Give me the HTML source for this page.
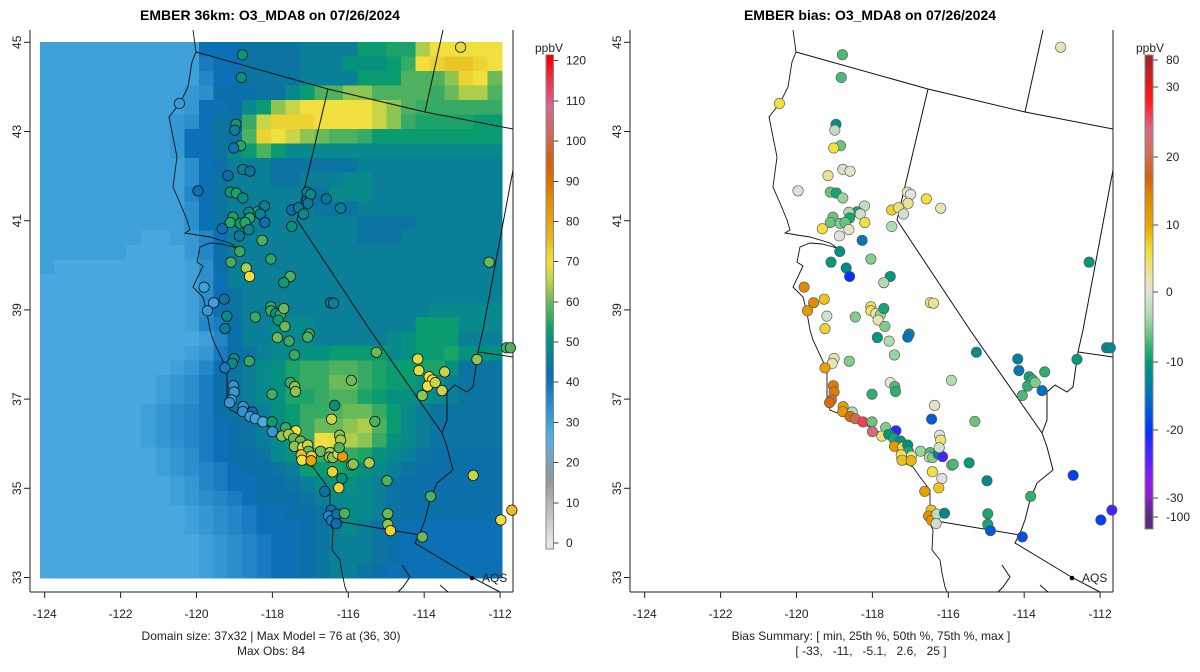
<!DOCTYPE html>
<html><head><meta charset="utf-8"><style>
html,body{margin:0;padding:0;background:#fff;}
svg{display:block;font-family:"Liberation Sans",Arial,sans-serif;}
</style></head><body>
<svg id="svg" width="1200" height="672" viewBox="0 0 1200 672" xmlns="http://www.w3.org/2000/svg">
<g id="left"></g>
<g id="right"></g>
</svg>
<script>
// ---------- DATA ----------
const gridRows = [
"55555555555AAACCCCDDDDGGHHMPPPPP","555555555559AACCCCDDDFFFGIPQRRQP","555555555558AACCCCDDDDGGGJJJLQPK",
"555555555567BBBCCEGJJLLJJJJIKMMJ","55555555556AABEGLNPPPPPNLJIIIIII","55555555567ACCINQQQPPPPNLIHHHHGG",
"5555555556AACCJQPNLKJJIGGGGGGGGG","5555555556AACEGJGEEEEEEEEEEEEEEE","55555555557ABDDDCCCCCCDDDDDDDDDD",
"55555555557ACDDDCCDDDEEDDDDDDDDD","55555555558ACDDDDDCCEEEDDDDDDDDD","55555555557ACDDDDDDCCCDDDDDDDDDD",
"55555555557ACDDDDDDDDDCCCCDDDDDD","555555544568ADDDDDDDDDCCCDDDDDDD","555555444468BDDDDDDDDDDDDDDDDDDD",
"544444444457BDDDDDDDDDDDDDDDDDDD","444444444457ADDDDDDDDDDDDDDDDDDD","444444444457ACDDDDDDDDDDDDDDDDDD",
"444444444457ACDDDDDDDDDDDDDEEEEE","4444444444589BDDEEEDDDDDDDGGGEEE","4444444444458BDDEEEDDDDDEFGGGDDD",
"4444444444569BCDEEFFGGGGEFGGHFFF","444444444568ACDEFHIIJJIHGGHHFCCC","444444445679BCDEFHIIKKIHGGFEDCCC",
"444444445679BCDEFHHIJJHGFFEEDCCC","444444456789BCDDFGIIJKKIGEDCCCCC","444444456789ABCDEGIKKLMJGEDCCCCC",
"444444456789ABCDEGIPOMLIFEDCCCCC","444444445679ABBCEFHIJIHFEDCBBBBB","4444444456789ABBCDGGHGFEDCBBBBBB",
"4444444445689AABBCDEFFEDCBBBBBBB","44444444456789ABBBCDEEEDCBBBBBBB","444444444456789AABBCDEEDCBBBBBBB",
"444444444456789AAABCDEDCBAAAAAAA","4444444444456789AABCDDDCBAAAAAAA","4444444444456789AABCDDDCBAAAAAAA",
"4444444444456789AABCDDCBAAAAAAAA"];
const lons = [-118.79,-118.82,-120.45,-118.96,-118.99,-118.84,-119.02,-118.78,-118.59,-119.17,-119.96,-119.11,-118.95,-118.78,-118.21,-118.40,-118.62,-118.32,-118.60,-119.04,-119.11,-118.85,-118.72,-118.20,-119.32,-118.62,-118.87,-118.27,-118.86,-119.09,-118.69,-118.60,-118.04,-117.53,-117.70,-119.80,-119.55,-119.71,-119.27,-119.20,-119.25,-118.45,-118.04,-118.04,-117.91,-117.79,-117.70,-117.85,-117.67,-117.87,-117.56,-117.03,-117.07,-117.49,-117.31,-117.08,-116.99,-117.06,-117.18,-116.58,-116.20,-117.49,-116.47,-116.39,-113.04,-112.29,-111.83,-111.73,
-117.42,-118.61,-119.01,-119.06,-119.25,-115.26,-114.17,-114.14,-113.46,-113.87,-113.78,-113.91,-113.71,-113.53,-114.05,-112.61,
-115.92,-117.53,-117.41,-117.39,-118.01,-119.03,-119.01,-119.08,-119.13,-116.36,-116.44,-115.30,-118.77,-118.78,-118.53,-118.59,-118.45,-118.25,-118.01,-118.00,-117.65,-117.38,-117.75,-117.57,-117.44,-117.26,-117.42,-117.20,-117.07,-117.05,-117.24,-117.22,-116.97,-116.98,-116.73,-116.48,-116.50,-116.41,-116.27,-116.15,-116.23,-116.20,-116.24,-115.91,-115.87,-115.45,-116.42,-116.17,-116.25,-116.62,-114.98,-113.83,-112.71,-116.45,-116.52,-116.44,-116.30,-116.32,-116.10,-114.96,-114.96,-114.89,-114.05,-111.98,-111.69];
const lats = [44.72,44.21,43.63,43.16,43.03,42.68,42.63,42.15,42.11,42.01,41.67,41.64,41.62,41.51,41.33,41.20,41.19,41.15,41.06,41.08,40.96,40.94,40.96,40.96,40.82,40.80,40.66,40.56,40.31,40.07,39.94,39.75,40.14,39.75,39.61,39.51,39.16,38.98,39.24,38.86,38.58,38.84,39.07,38.98,38.92,38.89,39.03,38.77,38.63,38.38,38.30,38.46,38.39,41.24,41.29,41.64,41.59,41.39,41.15,41.49,41.28,40.87,39.16,39.15,44.89,40.07,38.15,38.15,
37.99,37.85,37.91,37.80,37.70,38.05,37.90,37.64,37.61,37.50,37.43,37.29,37.37,37.19,37.08,37.89,
37.42,37.37,37.28,37.17,37.11,37.30,37.16,36.98,36.92,36.86,36.55,36.50,36.83,36.72,36.71,36.61,36.56,36.49,36.49,36.27,36.36,36.29,36.17,36.21,36.12,36.06,35.94,35.92,35.97,35.83,35.75,35.63,35.72,35.62,35.83,35.80,35.70,35.69,35.77,35.71,36.19,36.08,35.91,35.52,35.54,35.57,35.37,35.22,35.01,34.93,35.17,34.82,35.29,34.51,34.38,34.28,34.42,34.21,34.44,34.43,34.19,34.05,33.91,34.29,34.51];
const obsValues = [51,50,31,52,46,55,40,46,44,43,40,52,54,50,46,54,48,46,55,54,55,52,55,42,40,47,45,58,56,57,64,70,55,58,52,30,30,32,44,48,45,56,56,56,50,56,60,52,60,60,56,57,58,42,45,46,48,45,48,44,46,50,45,46,68,60,58,58,
56,56,48,48,38,60,68,68,66,70,70,70,66,66,62,62,
60,56,62,62,57,33,32,30,32,50,66,58,33,33,42,31,30,27,52,32,56,70,62,64,60,60,62,68,66,60,74,70,72,80,60,64,62,62,68,82,62,64,58,62,62,64,72,50,72,44,58,58,66,40,36,38,44,42,58,60,62,72,60,70,75];
const biasValues = [-7,-7,6,-11,-2,-6,6,-1,1,3,0,-6,-9,-4,-2,-9,-3,-1,-9,-6,-6,-5,-6,6,6,1,0,-14,-11,-10,-12,-20,-5,-10,-3,14,14,12,8,-1,7,-5,5,5,2,-4,-9,2,-5,-10,-3,-12,-15,7,4,2,0,3,-1,6,2,-3,4,3,2,-10,-12,-12,
-4,-5,2,2,11,-11,-13,-14,-8,-9,-8,-8,-5,-15,-7,-10,
-3,1,-7,-8,-8,15,15,20,16,1,-17,-6,11,12,-3,16,20,26,-6,23,-5,-22,4,-10,-9,-11,12,6,-11,-9,5,8,3,9,-4,-7,-3,-5,-12,-23,0,4,-1,-6,-7,-10,6,0,8,11,-12,-8,-19,8,13,12,-2,-1,-12,-9,-9,-17,-18,-19,-23];
const lonTicks = [-124,-122,-120,-118,-116,-114,-112];
const latTicks = [45,43,41,39,37,35,33];
const obsTicks = [0,10,20,30,40,50,60,70,80,90,100,110,120];
const biasTicks = [-100,-30,-20,-10,0,10,20,30,80];

// ---------- scales / colors ----------
const X = lon => 44.7 + (lon + 124) * 37.95;
const Y = lat => 42.3 + (45 - lat) * 44.6;
const obsStops = [[0,"#e6e6e6"],[10,"#b4b4b4"],[15,"#979797"],[20,"#7f9fb5"],[25,"#5aaee0"],[28,"#4aa8de"],[30,"#3e9fd9"],[34,"#2b8fcd"],[38,"#1a7cc0"],[40,"#0c70b4"],[43,"#0b6fa5"],[46,"#0a7f97"],[48,"#088a8c"],[50,"#06907f"],[53,"#0ea06a"],[56,"#37aa66"],[59,"#5ab45b"],[62,"#8ec452"],[65,"#bdd24a"],[68,"#e2dc40"],[70,"#f0df3c"],[73,"#eccd2c"],[76,"#e8b61e"],[80,"#e6a40e"],[85,"#e28d02"],[90,"#db7000"],[95,"#d75e10"],[100,"#d4654a"],[105,"#cc6a7a"],[108,"#d26a90"],[112,"#e84870"],[116,"#f02a3a"],[120,"#ff0000"]];
const biasStops = [[-100,"#5a2a80"],[-32,"#7a2ab0"],[-28,"#9020e0"],[-24,"#5a20ff"],[-20,"#0033ff"],[-18,"#0050e0"],[-15,"#0070c0"],[-12,"#008890"],[-10,"#009a78"],[-8,"#30ae70"],[-6,"#6cc47c"],[-3,"#b0dcb0"],[0,"#e0e0e0"],[2,"#e8e4b0"],[6,"#f0e040"],[10,"#e8a800"],[14,"#e08a00"],[17,"#d46010"],[21,"#d0705a"],[24,"#d86a8a"],[28,"#ff1a1a"],[30,"#f01818"],[80,"#a02828"]];
function hex(c){return [parseInt(c.substr(1,2),16),parseInt(c.substr(3,2),16),parseInt(c.substr(5,2),16)];}
function cmap(stops,v){
  if(v<=stops[0][0]) return stops[0][1];
  for(let i=1;i<stops.length;i++){ if(v<=stops[i][0]){
    const t=(v-stops[i-1][0])/(stops[i][0]-stops[i-1][0]);
    const a=hex(stops[i-1][1]),b=hex(stops[i][1]);
    return "rgb("+a.map((x,k)=>Math.round(x+(b[k]-x)*t)).join(",")+")"; } }
  return stops[stops.length-1][1];
}
const NS="http://www.w3.org/2000/svg";
function el(tag,attrs,parent,txt){const e=document.createElementNS(NS,tag);for(const k in attrs)e.setAttribute(k,attrs[k]);if(txt!==undefined)e.textContent=txt;parent.appendChild(e);return e;}

const coast=[[193,30],[196,52],[192,62],[188,87],[180,103],[169,117],[173,137],[177,157],[173,187],[180,203],[187,220],[190,230],[185,233],[197,235],[210,237],[230,243],[237,248],[222,244],[210,243],[200,247],[197,262],[203,266],[193,287],[203,297],[207,313],[210,330],[213,340],[227,370],[227,397],[230,410],[247,417],[270,427],[287,437],[297,447],[297,460],[313,467],[320,477],[330,490],[330,507],[327,517],[333,530],[332,550],[340,560],[342,573],[345,587],[347,592]];
const borders=[
 [[196,52],[328,89],[425,112],[513,129]],
 [[425,112],[443,30]],
 [[328,89],[297,220],[370,330],[442,433]],
 [[513,170],[483,330],[478,352],[513,357]],
 [[478,352],[473,387],[467,392],[455,385],[447,392],[447,420],[442,433],[447,447],[453,470],[437,483],[430,500],[425,520],[420,533],[415,543],[473,578],[500,592]],
 [[330,520],[420,535]],
 [[402,565],[410,577],[403,587],[398,592]],
 [[440,585],[448,592]]
];

function drawPanel(g, dx, isBias){
  const p = el("g",{transform:"translate("+dx+",0)"},g);
  if(!isBias){
    const hm = el("g",{"shape-rendering":"crispEdges"},p);
    
    
    const cw=462/32, ch=536/37;
    gridRows.forEach((row,r)=>{ for(let c=0;c<row.length;c++){
      const v=parseInt(row[c],36)*2+20;
      const cell=el("rect",{x:40+c*cw,y:42+r*ch,width:cw+0.6,height:ch+0.6,fill:cmap(obsStops,v)},hm);
      
      
    }});
  }
  const geo=el("g",{fill:"none",stroke:"#111","stroke-width":1},p);
  
  
  el("polyline",{points:coast.map(q=>q.join(",")).join(" "),"stroke-width":0.9},geo);
  borders.forEach(b=>el("polyline",{points:b.map(q=>q.join(",")).join(" ")},geo));
  const ax=el("g",{stroke:"#222","stroke-width":1,fill:"none"},p);
  
  
  el("line",{x1:30,y1:30,x2:30,y2:592},ax);
  el("line",{x1:30,y1:592,x2:513,y2:592},ax);
  el("line",{x1:513,y1:30,x2:513,y2:592},ax);
  lonTicks.forEach(t=>{
    el("line",{x1:X(t),y1:592,x2:X(t),y2:598},ax);
    const tx=el("text",{x:X(t),y:618,"text-anchor":"middle","font-size":12,fill:"#222"},p,String(t));
    
    
  });
  latTicks.forEach(t=>{
    el("line",{x1:24,y1:Y(t),x2:30,y2:Y(t)},ax);
    const tx=el("text",{x:0,y:0,"text-anchor":"middle","font-size":12,fill:"#222",transform:"translate(21,"+Y(t)+") rotate(-90)"},p,String(t));
    
    
  });
  const st=el("g",{},p);
  
  
  for(let i=0;i<lons.length;i++){
    const v = isBias?biasValues[i]:obsValues[i];
    const c=el("circle",{cx:X(lons[i]),cy:Y(lats[i]),r:5.2,fill:cmap(isBias?biasStops:obsStops,v),stroke:isBias?"#555":"#111","stroke-width":isBias?0.6:0.75},st);
    
    
  }
  el("circle",{cx:472,cy:578,r:2.3,fill:"#000"},p);
  const aq=el("text",{x:482,y:582,"font-size":12,fill:"#222"},p,"AQS");
  
  
}

const L=document.getElementById("left"), R=document.getElementById("right");
drawPanel(L,0,false);
drawPanel(R,600,true);

function txt(parent,x,y,s,attrs,name){const t=el("text",Object.assign({x:x,y:y,"text-anchor":"middle","font-size":12,fill:"#222"},attrs||{}),parent,s);return t;}
txt(L,270,20,"EMBER 36km: O3_MDA8 on 07/26/2024",{"font-weight":"bold","font-size":14,fill:"#000"},"left-title");
txt(R,870,20,"EMBER bias: O3_MDA8 on 07/26/2024",{"font-weight":"bold","font-size":14,fill:"#000"},"right-title");
txt(L,271,640,"Domain size: 37x32 | Max Model = 76 at (36, 30)",{},"domain-caption");
txt(L,271,655,"Max Obs: 84",{},"max-obs-caption");
txt(R,871,640,"Bias Summary: [ min, 25th %, 50th %, 75th %, max ]",{},"bias-summary-caption");
txt(R,871,655,"[ -33,   -11,   -5.1,   2.6,   25 ]",{style:"white-space:pre"},"bias-summary-values");

(function(){
  const g=el("g",{"shape-rendering":"crispEdges"},L);
  
  
  const top=60.7, bot=543, x0=546, w=7.5;
  const yv=v=>bot-(v/120)*(bot-top);
  for(let v=-1.5;v<121.5;v+=0.5){
    el("rect",{x:x0,y:yv(v+0.5),width:w,height:(bot-top)/240+0.4,fill:cmap(obsStops,v)},g);
  }
  el("rect",{x:x0,y:yv(121.5),width:w,height:yv(-1.5)-yv(121.5),fill:"none",stroke:"#888","stroke-width":0.6},g);
  obsTicks.forEach(t=>{
    el("line",{x1:x0+w,y1:yv(t),x2:x0+w+5,y2:yv(t),stroke:"#444"},g);
    const tl=el("text",{x:566,y:yv(t)+4,"font-size":12,fill:"#222"},L,String(t));
    
    
  });
  txt(L,549,52,"ppbV",{},"obs-colorbar-unit");
})();

(function(){
  const g=el("g",{"shape-rendering":"crispEdges"},R);
  
  
  const tickY=[517,498,430,362,292,225,157,87,60];
  const yv=v=>{for(let i=1;i<biasTicks.length;i++){if(v<=biasTicks[i]){const t=(v-biasTicks[i-1])/(biasTicks[i]-biasTicks[i-1]);return tickY[i-1]+(tickY[i]-tickY[i-1])*t;}}return tickY[tickY.length-1];};
  const x0=1145,w=8,yTop=55,yBot=529;
  for(let y=yTop;y<yBot;y++){
    let v;
    if(y<=tickY[tickY.length-1]) v=80;
    else if(y>=tickY[0]) v=-100;
    else { for(let i=1;i<tickY.length;i++){ if(y<=tickY[i-1] && y>=tickY[i]){ v=biasTicks[i-1]+(biasTicks[i]-biasTicks[i-1])*(y-tickY[i-1])/(tickY[i]-tickY[i-1]); break; } } }
    el("rect",{x:x0,y:y,width:w,height:1.2,fill:cmap(biasStops,v)},g);
  }
  el("rect",{x:x0,y:yTop,width:w,height:yBot-yTop,fill:"none",stroke:"#888","stroke-width":0.6},g);
  biasTicks.forEach(t=>{
    el("line",{x1:x0+w,y1:yv(t),x2:x0+w+5,y2:yv(t),stroke:"#444"},g);
    const tl=el("text",{x:1166,y:yv(t)+4,"font-size":12,fill:"#222"},R,String(t));
    
    
  });
  txt(R,1150,52,"ppbV",{},"bias-colorbar-unit");
})();
</script>
</body></html>
